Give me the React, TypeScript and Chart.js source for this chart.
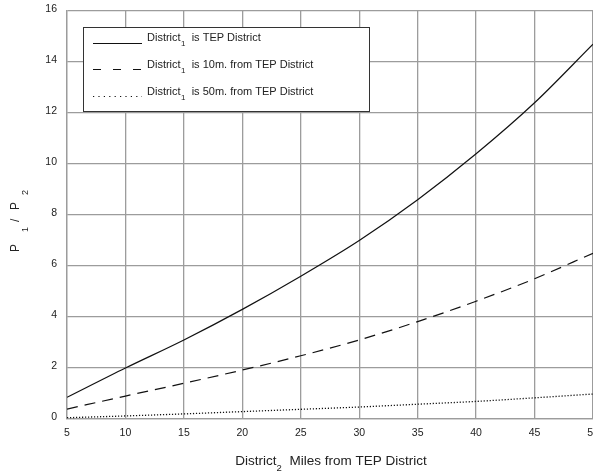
import React, { useEffect, useRef } from "react";
import { Chart, registerables } from "chart.js";

Chart.register(...registerables);

// ---- data ----
const xValues = [5, 10, 15, 20, 25, 30, 35, 40, 45, 50];
const seriesTEP = [0.85, 2.0, 3.1, 4.3, 5.6, 7.0, 8.6, 10.4, 12.4, 14.7];
const series10m = [0.39, 0.9, 1.4, 1.92, 2.48, 3.1, 3.82, 4.62, 5.5, 6.5];
const series50m = [0.05, 0.12, 0.2, 0.29, 0.38, 0.47, 0.58, 0.69, 0.83, 0.98];
const legendPrefix = "District";
const legendSub = "1";
const legendTexts = ["is TEP District", "is 10m. from TEP District", "is 50m. from TEP District"];
const xTitleMain = "District";
const xTitleSub = "2";
const xTitleRest = "Miles from TEP District";
const yTitleParts = ["P", "1", "/", "P", "2"];

const FONT = '"Liberation Sans", Arial, Helvetica, sans-serif';
const LINE_COLOR = "#111";
const GRID_COLOR = "#9c9c9c";

const dashPatterns: number[][] = [[], [11, 7], [1.2, 1.8]];
const legendDash: number[][] = [[], [8, 12], [1.2, 4.2]];

const overlayPlugin = {
  id: "overlay",
  afterDraw(chart: any) {
    const ctx: CanvasRenderingContext2D = chart.ctx;
    const area = chart.chartArea;
    ctx.save();
    ctx.fillStyle = "#222";
    ctx.textBaseline = "alphabetic";
    ctx.textAlign = "left";

    // ---- X title ----
    const mainF = `13.5px ${FONT}`;
    const subF = `9.5px ${FONT}`;
    ctx.font = mainF;
    const w1 = ctx.measureText(xTitleMain).width;
    const wGap = ctx.measureText("  ").width;
    const w3 = ctx.measureText(xTitleRest).width;
    ctx.font = subF;
    const w2 = ctx.measureText(xTitleSub).width;
    const total = w1 + w2 + wGap + w3;
    const cx = (area.left + area.right) / 2 + 1;
    let xx = cx - total / 2;
    const by = 465;
    ctx.font = mainF;
    ctx.fillText(xTitleMain, xx, by);
    xx += w1;
    ctx.font = subF;
    ctx.fillText(xTitleSub, xx, by + 6);
    xx += w2 + wGap;
    ctx.font = mainF;
    ctx.fillText(xTitleRest, xx, by);

    // ---- Y title (rotated) ----
    ctx.save();
    ctx.translate(19, 252);
    ctx.rotate(-Math.PI / 2);
    const yMain = `12px ${FONT}`;
    const ySub = `9px ${FONT}`;
    const offsets = [0, 20, 30, 42, 57];
    const isSub = [false, true, false, false, true];
    yTitleParts.forEach((t, i) => {
      ctx.font = isSub[i] ? ySub : yMain;
      ctx.fillText(t, offsets[i], isSub[i] ? 9 : 0);
    });
    ctx.restore();

    // ---- Legend ----
    const bx = 83.5, byy = 27.5, bw = 286, bh = 84;
    ctx.fillStyle = "#fff";
    ctx.fillRect(bx, byy, bw, bh);
    ctx.strokeStyle = "#333";
    ctx.lineWidth = 1;
    ctx.setLineDash([]);
    ctx.strokeRect(bx, byy, bw, bh);

    const rowBase = [41, 67.5, 95];
    const lineY = [43.5, 69.5, 96.5];
    chart.data.datasets.forEach((ds: any, i: number) => {
      ctx.beginPath();
      ctx.strokeStyle = LINE_COLOR;
      ctx.lineWidth = 1.1;
      ctx.setLineDash(legendDash[i]);
      ctx.moveTo(93, lineY[i]);
      ctx.lineTo(142, lineY[i]);
      ctx.stroke();
      ctx.setLineDash([]);
      ctx.fillStyle = "#222";
      let tx = 147;
      ctx.font = `11px ${FONT}`;
      ctx.fillText(legendPrefix, tx, rowBase[i]);
      tx += ctx.measureText(legendPrefix).width + 0.5;
      ctx.font = `8px ${FONT}`;
      ctx.fillText(legendSub, tx, rowBase[i] + 5);
      tx += ctx.measureText(legendSub).width;
      ctx.font = `11px ${FONT}`;
      tx += ctx.measureText("  ").width;
      ctx.fillText(legendTexts[i], tx, rowBase[i]);
    });
    ctx.restore();
  },
};

export default function App() {
  const ref = useRef<HTMLCanvasElement | null>(null);
  useEffect(() => {
    if (!ref.current) return;
    const mk = (arr: number[]) => xValues.map((x, i) => ({ x, y: arr[i] }));
    const series = [seriesTEP, series10m, series50m];
    const chart = new Chart(ref.current, {
      type: "line",
      data: {
        datasets: series.map((s, i) => ({
          label: legendTexts[i],
          data: mk(s),
          borderColor: LINE_COLOR,
          borderWidth: i === 2 ? 1.3 : 1.2,
          borderDash: dashPatterns[i],
          pointRadius: 0,
          cubicInterpolationMode: "monotone" as const,
          fill: false,
        })),
      },
      options: {
        responsive: false,
        animation: false,
        devicePixelRatio: 1,
        layout: { padding: { top: 11, left: 0, right: 0, bottom: 0 } },
        plugins: { legend: { display: false }, tooltip: { enabled: false } },
        scales: {
          x: {
            type: "linear",
            min: 5,
            max: 50,
            ticks: {
              stepSize: 5,
              padding: 8,
              color: "#222",
              font: { family: FONT, size: 10.5 },
              maxRotation: 0,
            },
            grid: { color: GRID_COLOR, lineWidth: 1.3, drawTicks: false },
            border: { color: GRID_COLOR, width: 1.3 },
            afterFit: (s: any) => {
              s.height = 55;
              s.paddingLeft = 0;
              s.paddingRight = 0;
            },
          },
          y: {
            type: "linear",
            min: 0,
            max: 16,
            ticks: {
              stepSize: 2,
              padding: 10,
              labelOffset: -2,
              color: "#222",
              font: { family: FONT, size: 10.5 },
            },
            grid: { color: GRID_COLOR, lineWidth: 1.3, drawTicks: false },
            border: { color: GRID_COLOR, width: 1.3 },
            afterFit: (s: any) => {
              s.width = 67;
              s.paddingTop = 0;
              s.paddingBottom = 0;
            },
          },
        },
      },
      plugins: [overlayPlugin],
    });
    return () => chart.destroy();
  }, []);
  return (
    <div style={{ position: "absolute", left: 0, top: 0, width: 593, height: 474, background: "#fff" }}>
      <canvas ref={ref} width={593} height={474} style={{ display: "block" }} />
    </div>
  );
}
